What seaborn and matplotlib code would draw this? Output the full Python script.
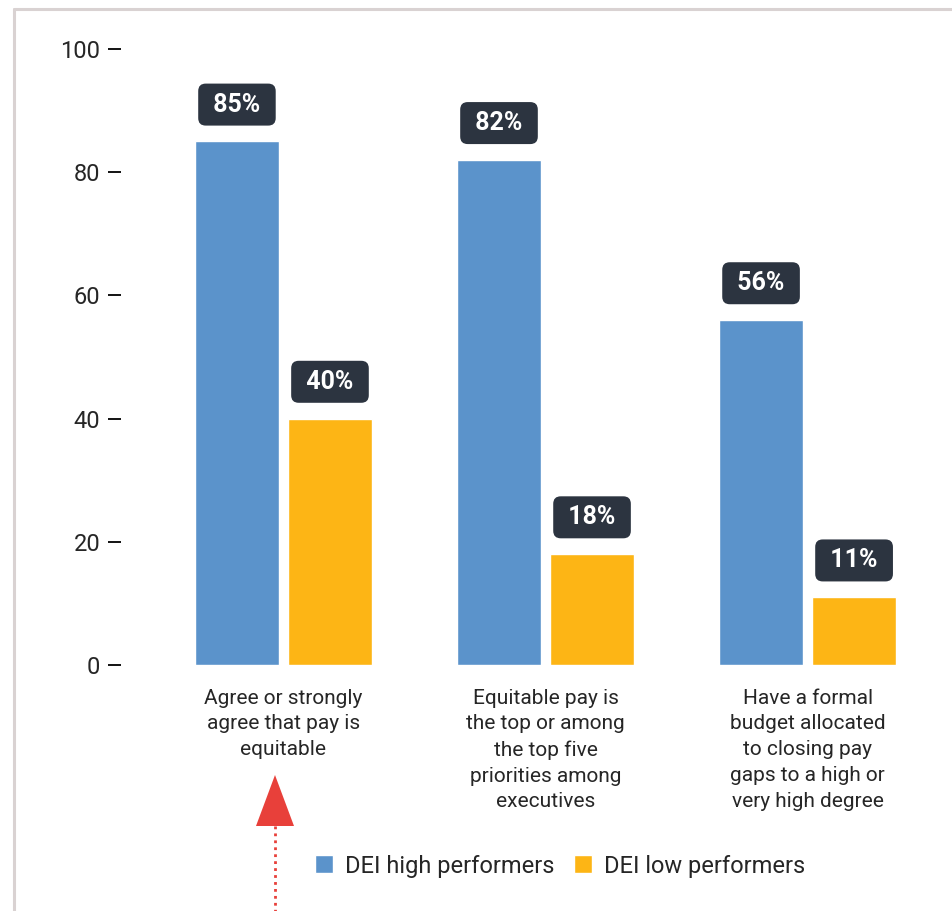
import pandas as pd
import matplotlib.pyplot as plt
import seaborn as sns
from matplotlib.lines import Line2D
from matplotlib.patches import Polygon

# chart data
categories = [
    'Agree or strongly\nagree that pay is\nequitable',
    'Equitable pay is\nthe top or among\nthe top five\npriorities among\nexecutives',
    'Have a formal\nbudget allocated\nto closing pay\ngaps to a high or\nvery high degree',
]
groups = ['DEI high performers', 'DEI low performers']
high_values = [85, 82, 56]
low_values = [40, 18, 11]
y_ticks = [0, 20, 40, 60, 80, 100]

colors = ['#5b93cb', '#fdb515']

rows = []
for cat, h, l in zip(categories, high_values, low_values):
    rows.append({'category': cat, 'group': groups[0], 'value': h})
    rows.append({'category': cat, 'group': groups[1], 'value': l})
df = pd.DataFrame(rows)

sns.set_style('white')
plt.rcParams['font.family'] = ['Roboto', 'DejaVu Sans']

fig = plt.figure(figsize=(9.53, 9.11), dpi=100)
ax = fig.add_axes([121 / 953, (911 - 665) / 911, 1 - 121 / 953, 616 / 911])

sns.barplot(data=df, x='category', y='value', hue='group', palette=colors,
            width=0.71, gap=0.1, saturation=1, ax=ax, legend=True)

ax.set_ylim(0, 100)
ax.set_xlim(-0.62, 2.555)
ax.set_yticks(y_ticks)
ax.set_xlabel('')
ax.set_ylabel('')
for s in ax.spines.values():
    s.set_visible(False)
ax.tick_params(axis='y', direction='out', length=9.5, width=1.3, color='black',
               pad=5.5, labelsize=17, left=True)
ax.tick_params(axis='x', length=0, pad=17, labelsize=15)
for lbl in ax.get_xticklabels():
    lbl.set_linespacing(1.45)
    lbl.set_va('top')

# value labels in dark rounded boxes
for container in ax.containers:
    for bar in container:
        v = bar.get_height()
        ax.annotate(f' {v:.0f}% ', (bar.get_x() + bar.get_width() / 2, v),
                    xytext=(0, 26.5), textcoords='offset points',
                    ha='center', va='center', fontsize=18, fontweight='bold',
                    color='white',
                    bbox=dict(boxstyle='round,pad=0.36,rounding_size=0.3',
                              fc='#2c3440', ec='none'))

# legend at the bottom
handles, labels = ax.get_legend_handles_labels()
ax.get_legend().remove()
fig.legend(handles, labels, loc='center', bbox_to_anchor=(560 / 953, 45 / 911),
           ncol=2, frameon=False, fontsize=17, handlelength=0.8,
           handleheight=0.8, handletextpad=0.5, columnspacing=0.8)

# frame lines on top and left
W, H = 953, 911
border = '#d9d2d2'
fig.add_artist(Line2D([14 / W, 14 / W], [0, 1 - 9 / H], color=border, lw=2.2))
fig.add_artist(Line2D([14 / W, 1], [1 - 9 / H, 1 - 9 / H], color=border, lw=2.2))

# red arrow pointing up at the first category
red = '#e8403a'
fig.add_artist(Polygon([[275 / W, 1 - 775 / H], [256 / W, 1 - 826 / H],
                        [294 / W, 1 - 826 / H]], closed=True,
                       transform=fig.transFigure, fc=red, ec='none'))
fig.add_artist(Line2D([275 / W, 275 / W], [1 - 826 / H, 0], color=red,
                      lw=2, linestyle=(0, (1, 1.5))))

fig.savefig('out.png', dpi=100)
